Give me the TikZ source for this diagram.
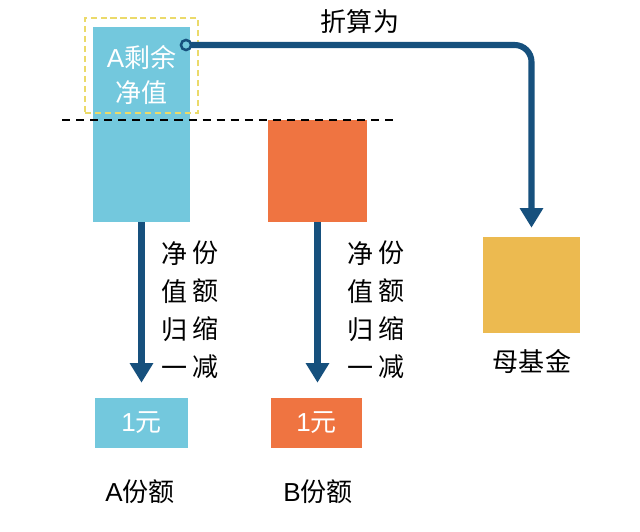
\documentclass[tikz,border=0pt]{standalone}
\usepackage{fontspec}
\setmainfont{Liberation Sans}
\newfontfamily\cjk{Noto Sans CJK SC}
\usetikzlibrary{arrows.meta, positioning}
\definecolor{fundblue}{RGB}{115,200,221}
\definecolor{fundorange}{RGB}{239,116,65}
\definecolor{fundgold}{RGB}{236,186,80}
\definecolor{flowcolor}{RGB}{22,80,125}
\definecolor{markyellow}{RGB}{235,218,106}
\tikzset{
  fbox/.style   = {draw=none, inner sep=0pt},
  btext/.style  = {text=white, font=\fontsize{18.5}{25.5}\selectfont, align=center},
  ltext/.style  = {font=\fontsize{18.5}{25.5}\selectfont, align=center},
  vtext/.style  = {font=\fontsize{18.5}{27}\selectfont\cjk, align=center},
  flow/.style   = {-{Triangle[length=14pt, width=16pt]}, line width=4.3pt, color=flowcolor},
}
\begin{document}
\begin{tikzpicture}[x=0.025cm, y=-0.025cm]
  \useasboundingbox (0,0) rectangle (640,532);
  % fund boxes
  \node[fbox, fill=fundblue, minimum width=2.425cm, minimum height=4.875cm] (boxA) at (141.5,124.5) {};
  \node[fbox, fill=fundorange, minimum width=2.475cm, minimum height=2.55cm] (boxB) at (317.5,171) {};
  \node[fbox, fill=fundgold, minimum width=2.425cm, minimum height=2.4cm] (mother) at (531.5,285) {};
  \node[fbox, fill=fundblue, minimum width=2.325cm, minimum height=1.25cm, btext] (oneA) at (141.5,423) {1{\cjk 元}};
  \node[fbox, fill=fundorange, minimum width=2.275cm, minimum height=1.25cm, btext] (oneB) at (316.5,423) {1{\cjk 元}};
  % residual net value
  \node[draw=markyellow, line width=1.5pt, dash pattern=on 4.3pt off 2.8pt,
        minimum width=2.825cm, minimum height=2.375cm, inner sep=0pt] (mark) at (141.5,65.5) {};
  \node[btext] (labA) at (141.5,75) {A{\cjk 剩余}\\{\cjk 净值}};
  \draw[line width=1.5pt, dash pattern=on 5.7pt off 4.3pt] (62,120) -- (393,120);
  % conversion to mother fund
  \coordinate (start) at (186,45);
  \draw[flow, rounded corners=12pt, shorten >=0.225cm] (start) -| (mother.north);
  \draw[flowcolor, line width=1.8pt, fill=fundblue] (start) circle (3.6pt);
  \node[ltext] (conv) at (360,22) {\cjk 折算为};
  % share split
  \draw[flow, shorten >=0.375cm] (boxA.south) -- (boxA.south |- oneA.north);
  \draw[flow, shorten >=0.375cm] (boxB.south) -- (boxB.south |- oneB.north);
  \node[vtext] (vA1) at (175,310) {净\\值\\归\\一};
  \node[vtext] (vA2) at (206,310) {份\\额\\缩\\减};
  \node[vtext] (vB1) at (361,310) {净\\值\\归\\一};
  \node[vtext] (vB2) at (392,310) {份\\额\\缩\\减};
  % names
  \node[ltext] (nameA) at (140,492) {A{\cjk 份额}};
  \node[ltext] (nameB) at (318,492) {B{\cjk 份额}};
  \node[ltext] (nameM) at (532,362) {\cjk 母基金};
\end{tikzpicture}
\end{document}
